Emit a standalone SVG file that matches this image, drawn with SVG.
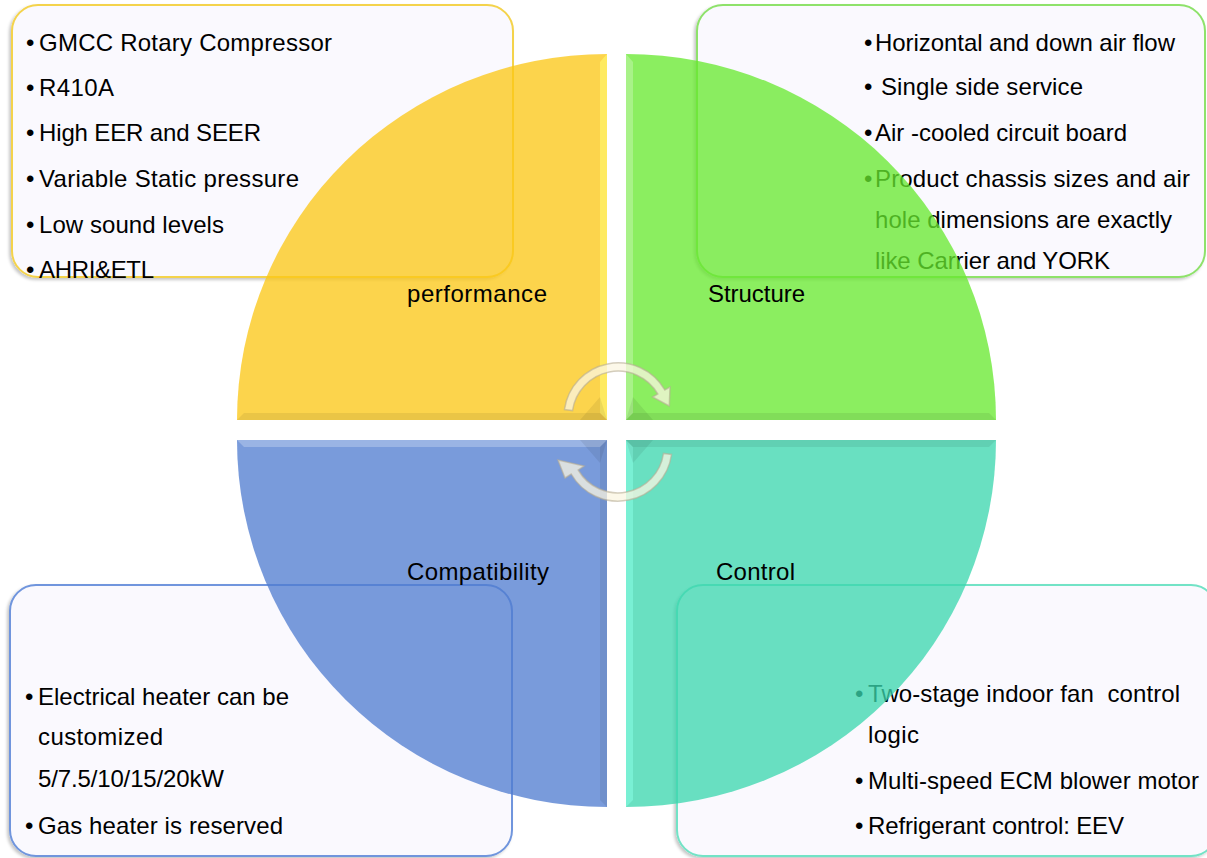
<svg xmlns="http://www.w3.org/2000/svg" width="1207" height="858" viewBox="0 0 1207 858">
<style>
  .t { font-family: "Liberation Sans", Arial, sans-serif; font-size: 24px; fill: #000; }
  .lbl { font-family: "Liberation Sans", Arial, sans-serif; font-size: 24px; fill: #000; }
  .box { fill: #faf9fe; stroke-width: 2; filter: url(#sh); }
  .q { opacity: 0.76; }
  .lite { fill: #ffffff; opacity: 0.25; }
  .dark { fill: #000000; opacity: 0.07; }
  .arrowBody { fill: #fbf5e2; fill-opacity: 0.75; stroke: #b8ad94; stroke-opacity: 0.6; stroke-width: 1.5; }
</style>
<defs>
  <filter id="sh" x="-5%" y="-5%" width="110%" height="115%">
    <feDropShadow dx="-2" dy="2" stdDeviation="1.5" flood-color="#000" flood-opacity="0.22"/>
  </filter>
</defs>
<rect width="1207" height="858" fill="#ffffff"/>

<g id="node-performance">
  <rect class="box" x="12" y="5" width="501" height="272" rx="26" stroke="#f4d34c"/>
  <g class="t">
    <text x="26" y="51">•</text><text x="39" y="51" textLength="293" lengthAdjust="spacing">GMCC Rotary Compressor</text>
    <text x="26" y="96">•</text><text x="39" y="96" textLength="75" lengthAdjust="spacing">R410A</text>
    <text x="26" y="141">•</text><text x="39" y="141" textLength="222" lengthAdjust="spacing">High EER and SEER</text>
    <text x="26" y="187">•</text><text x="39" y="187" textLength="260" lengthAdjust="spacing">Variable Static pressure</text>
    <text x="26" y="233">•</text><text x="39" y="233" textLength="185" lengthAdjust="spacing">Low sound levels</text>
    <text x="26" y="278">•</text><text x="39" y="278" textLength="115" lengthAdjust="spacing">AHRI&amp;ETL</text>
  </g>
  <path class="q" d="M607,420 L607,54 A370,366 0 0 0 237,420 Z" fill="#fbc614"/>
  <polygon points="600,62 607,54 607,420 600,413" fill="#fff36a" opacity="0.7"/>
  <polygon points="244,413 600,413 607,420 237,420" class="dark"/>
  <polygon points="607,420 580,420 600,397" class="dark"/>
  <text class="lbl" x="407" y="302" textLength="140" lengthAdjust="spacing">performance</text>
</g>

<g id="node-structure">
  <rect class="box" x="697" y="5" width="508" height="272" rx="26" stroke="#8ee26b"/>
  <g class="t">
    <text x="864" y="51">•</text><text x="875" y="51" textLength="300" lengthAdjust="spacing">Horizontal and down air flow</text>
    <text x="864" y="95">•</text><text x="881" y="95" textLength="202" lengthAdjust="spacing">Single side service</text>
    <text x="864" y="141">•</text><text x="875" y="141" textLength="252" lengthAdjust="spacing">Air -cooled circuit board</text>
    <text x="864" y="187">•</text><text x="875" y="187" textLength="315" lengthAdjust="spacing">Product chassis sizes and air</text>
    <text x="875" y="228" textLength="297" lengthAdjust="spacing">hole dimensions are exactly</text>
    <text x="875" y="269" textLength="235" lengthAdjust="spacing">like Carrier and YORK</text>
  </g>
  <path class="q" d="M626,420 L626,54 A370,366 0 0 1 996,420 Z" fill="#66e82e"/>
  <polygon points="626,54 633,62 633,413 626,420" class="lite"/>
  <polygon points="633,413 989,413 996,420 626,420" class="dark"/>
  <polygon points="626,420 653,420 633,397" class="dark"/>
  <text class="lbl" x="708" y="302" textLength="97" lengthAdjust="spacing">Structure</text>
</g>

<g id="node-compatibility">
  <rect class="box" x="10" y="585" width="502" height="271" rx="26" stroke="#6f95dd"/>
  <g class="t">
    <text x="25" y="705">•</text><text x="38" y="705" textLength="251" lengthAdjust="spacing">Electrical heater can be</text>
    <text x="38" y="745" textLength="125" lengthAdjust="spacing">customized</text>
    <text x="38" y="787" textLength="186" lengthAdjust="spacing">5/7.5/10/15/20kW</text>
    <text x="25" y="834">•</text><text x="38" y="834" textLength="245" lengthAdjust="spacing">Gas heater is reserved</text>
  </g>
  <path class="q" d="M607,440 L237,440 A370,367 0 0 0 607,807 Z" fill="#4f7cd0"/>
  <polygon points="237,440 607,440 600,447 244,447" class="lite"/>
  <polygon points="600,447 607,440 607,807 600,800" class="dark"/>
  <polygon points="607,440 580,440 600,463" class="dark"/>
  <text class="lbl" x="407" y="580" textLength="142" lengthAdjust="spacing">Compatibility</text>
</g>

<g id="node-control">
  <rect class="box" x="677" y="585" width="540" height="271" rx="26" stroke="#72e3c6"/>
  <g class="t">
    <text x="855" y="702">•</text><text x="868" y="702" textLength="312" lengthAdjust="spacing">Two-stage indoor fan&#160; control</text>
    <text x="868" y="743" textLength="51" lengthAdjust="spacing">logic</text>
    <text x="855" y="789">•</text><text x="868" y="789" textLength="331" lengthAdjust="spacing">Multi-speed ECM blower motor</text>
    <text x="855" y="834">•</text><text x="868" y="834" textLength="256" lengthAdjust="spacing">Refrigerant control: EEV</text>
  </g>
  <path class="q" d="M626,440 L996,440 A370,367 0 0 1 626,807 Z" fill="#3ad6ae"/>
  <polygon points="626,440 633,447 633,800 626,807" fill="#8affe8" opacity="0.5"/>
  <polygon points="626,440 996,440 989,447 633,447" class="dark"/>
  <polygon points="626,440 653,440 633,463" class="dark"/>
  <text class="lbl" x="716" y="580" textLength="79" lengthAdjust="spacing">Control</text>
</g>

<g id="connectors">
  <path class="arrowBody" d="M564.5,409.5 A54,54 0 0 1 664.8,390 L670,387 L669.3,405.9 L652.6,397 L657.8,394 A46,46 0 0 0 572.5,410.6 Z"/>
  <path class="arrowBody" d="M671.5,454.5 A54,54 0 0 1 571.2,474 L565,478 L558,460 L584,466 L578.2,470 A46,46 0 0 0 663.5,453.4 Z"/>
</g>
</svg>
